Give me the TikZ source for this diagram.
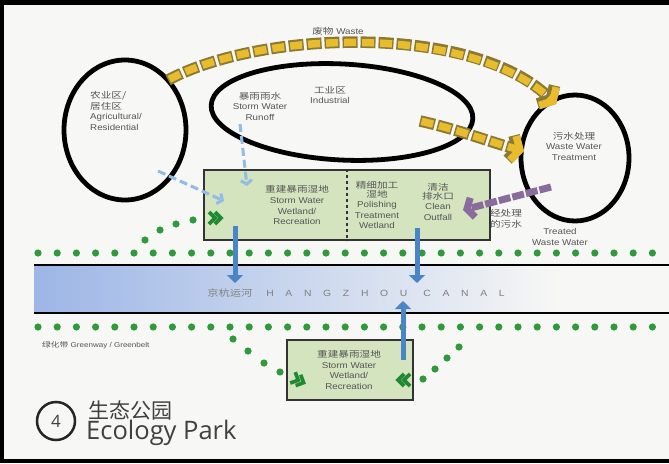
\documentclass[tikz,border=0pt]{standalone}
\usepackage{fontspec}
\setmainfont[FakeStretch=1.15]{Liberation Sans}
\newfontfamily\zh[FakeStretch=1.25]{Noto Sans CJK SC}
\newfontfamily\titlefont{Open Sans}
\newfontfamily\titlezh{Noto Sans CJK SC}
\usetikzlibrary{arrows.meta,shapes.geometric}
\definecolor{bgc}{HTML}{F7F7F5}
\definecolor{txtc}{HTML}{555555}
\definecolor{wastefill}{HTML}{E8BC2C}
\definecolor{wasteedge}{HTML}{8A7A34}
\definecolor{wetfill}{HTML}{D3E4BF}
\definecolor{dotc}{HTML}{2E9A3C}
\definecolor{chevc}{HTML}{1F8A32}
\definecolor{flowc}{HTML}{4A86C6}
\definecolor{runc}{HTML}{90BCE6}
\definecolor{treatc}{HTML}{8A6C9C}
\definecolor{canalc}{HTML}{9DB6E6}
\tikzset{
  chevs/.pic={\draw[chevc,line width=3.6pt] (-8,-6)--(-2,0)--(-8,6) (-2,-6)--(4,0)--(-2,6);}
}
\begin{document}
\begin{tikzpicture}[x=1pt,y=-1pt,
  every node/.style={inner sep=0pt},
  zone/.style={ellipse,draw=black,line width=4.8pt},
  lbl/.style={text=txtc,font=\fontsize{8.5}{10.5}\selectfont,align=center},
  wetbox/.style={draw=black!80,line width=2pt,fill=wetfill},
  wasteout/.style={draw=wasteedge,line width=11.5pt,dash pattern=on 15pt off 3pt,
    -{Straight Barb[length=7pt,width=25pt]}},
  wastein/.style={draw=wastefill,line width=7.5pt,dash pattern=on 12pt off 6pt,dash phase=16.5pt,
    -{Straight Barb[length=7pt,width=25pt]}},
  flow/.style={draw=flowc,line width=5pt,-{Triangle[length=8pt,width=16pt]}},
  runoff/.style={draw=runc,line width=3pt,dash pattern=on 8pt off 4pt,
    -{Straight Barb[length=4pt,width=11pt]}},
  treated/.style={draw=treatc,line width=7pt,dash pattern=on 12pt off 2pt,
    -{Straight Barb[length=6pt,width=20pt]}}]
\useasboundingbox (0,0) rectangle (669,463);
\fill[black] (0,0) rectangle (669,463);
\fill[bgc] (4,5) rectangle (669,459);

% canal
\fill[left color=canalc,right color=bgc] (34,265) rectangle (560,313);
\draw[line width=2pt] (34,265) -- (669,265);
\draw[line width=2pt] (34,313) -- (669,313);
\node[text=black!50,font=\fontsize{9}{11}\selectfont] (canal) at (356,293)
  {{\zh 京杭运河}\hspace{14pt}\addfontfeature{LetterSpace=130}HANGZHOU\hspace{16pt}CANAL};

% greenbelts
\foreach \k in {0,...,32}
  {\fill[dotc] ({38+\k*19.2},253) circle (3.6);
   \fill[dotc] ({38+\k*19.2},327) circle (3.6);}
\foreach \x/\y in {145/240,160/230,176/224,193/220,
                   233/339,248/351,264/363,280/372,
                   423/379,435/369,447/358,459/347}
  \fill[dotc] (\x,\y) circle (3.6);
\node[lbl,font=\fontsize{7}{9}\selectfont,anchor=west] (belt) at (42,345)
  {{\zh 绿化带} Greenway / Greenbelt};

% zones
\node[zone,minimum width=122,minimum height=140] (agri) at (125,130) {};
\node[zone,minimum width=262,minimum height=96,rotate=-3] (ind) at (342,112) {};
\node[zone,minimum width=108,minimum height=126] (wwt) at (575,158) {};
\node[lbl,align=left,anchor=west] (agrilbl) at (90,111)
  {{\zh 农业区/}\\{\zh 居住区}\\Agricultural/\\Residential};
\node[lbl] (indlbl) at (330,95) {{\zh 工业区}\\Industrial};
\node[lbl] (runlbl) at (260,106) {{\zh 暴雨雨水}\\Storm Water\\Runoff};
\node[lbl] (wwtlbl) at (574,146) {{\zh 污水处理}\\Waste Water\\Treatment};

% wetlands
\node[wetbox,minimum width=286,minimum height=70] (wetland) at (347,205) {};
\draw[black!80,line width=1.5pt,dashed] (wetland.north) -- (wetland.south);
\node[lbl] (stormlbl) at (297,205) {{\zh 重建暴雨湿地}\\[1pt]Storm Water\\Wetland/\\Recreation};
\node[lbl] (pollbl) at (377,205) {{\zh 精细加工}\\[-2pt]{\zh 湿地}\\Polishing\\Treatment\\Wetland};
\node[lbl] (outlbl) at (438,202) {{\zh 清洁}\\[-2pt]{\zh 排水口}\\Clean\\Outfall};
\node[wetbox,minimum width=126,minimum height=60] (park) at (350,370) {};
\node[lbl] (parklbl) at (349,370) {{\zh 重建暴雨湿地}\\Storm Water\\Wetland/\\Recreation};
\pic at (217,218) {chevs};
\pic[rotate=-25] at (300,381) {chevs};
\pic[rotate=180] at (402,380) {chevs};

% flows
\coordinate (w1) at (168,80);
\coordinate (w2) at (556,104);
\draw[wasteout] (w1) .. controls (262,30) and (470,24) .. (w2);
\draw[wastein] (w1) .. controls (262,30) and (470,24) .. (w2);
\coordinate (i1) at (420,121);
\coordinate (i2) at (524,151);
\draw[wasteout] (i1) .. controls (460,130) and (490,142) .. (i2);
\draw[wastein] (i1) .. controls (460,130) and (490,142) .. (i2);
\node[lbl] (wastelbl) at (338,31) {{\zh 废物} Waste};

\coordinate (r1) at (240,124);
\coordinate (r2) at (247,186);
\draw[runoff] (r1) -- (r2);
\coordinate (r3) at (158,171);
\coordinate (r4) at (224,201);
\draw[runoff] (r3) -- (r4);

\coordinate (t1) at (551,187);
\coordinate (t2) at (463,210);
\draw[treated] (t1) -- (t2);
\node[lbl] (tzh) at (506,219) {{\zh 经处理}\\{\zh 的污水}};
\node[lbl] (tlbl) at (560,237) {Treated\\Waste Water};

\coordinate (d1) at (235,226);
\coordinate (d2) at (235,283);
\draw[flow] (d1) -- (d2);
\coordinate (d3) at (417,228);
\coordinate (d4) at (417,283);
\draw[flow] (d3) -- (d4);
\coordinate (u1) at (403,360);
\coordinate (u2) at (403,301);
\draw[flow] (u1) -- (u2);

% title
\draw[line width=2.5pt,black!85] (56,421) circle (19);
\node[text=black!75,font=\titlefont\fontsize{17}{17}\selectfont] (num) at (56,421) {4};
\node[anchor=west,text=black!75,font=\titlezh\fontsize{21}{21}\selectfont] (titzh) at (88,410) {生态公园};
\node[anchor=west,text=black!75,font=\titlefont\fontsize{25.5}{25.5}\selectfont] (titen) at (86,433) {Ecology Park};
\end{tikzpicture}
\end{document}
